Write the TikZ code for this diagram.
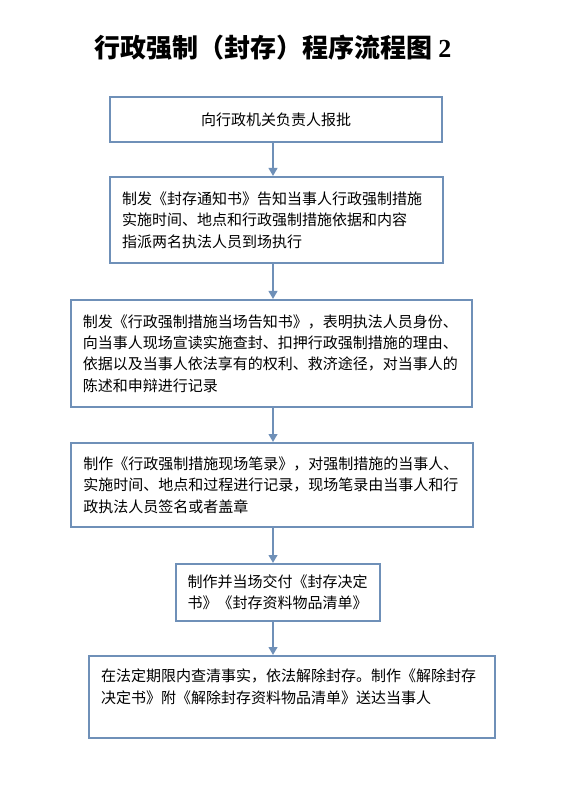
\documentclass[tikz,border=0pt]{standalone}
\usepackage{fontspec}
\setmainfont{Liberation Serif}
\newfontfamily\cjk{Noto Sans CJK SC}
\usetikzlibrary{arrows.meta}
\definecolor{flowblue}{HTML}{6F90B8}

\begin{document}
\begin{tikzpicture}[x=0.75pt, y=-0.75pt, >={Triangle[length=6pt,width=6.5pt]},
  box/.style={draw=flowblue, line width=1.5pt, inner xsep=9pt, inner ysep=0pt,
    align=left, anchor=north, font=\cjk\fontsize{11.25}{16.1}\selectfont},
  flow/.style={->, draw=flowblue, line width=1.5pt}]
  \useasboundingbox (0,0) rectangle (569,812);
  \node[font=\cjk\bfseries\fontsize{19.5}{24}\selectfont] (title) at (273,48)
    {行政强制（封存）程序流程图 {\rmfamily\bfseries 2}};
  \coordinate (spine) at (273,0);

  \node[box, align=center, text width=231pt, minimum height=33.75pt] (report) at (276,96)
    {向行政机关负责人报批};
  \node[box, text width=231.75pt, minimum height=64.5pt] (notice) at (276.5,176)
    {制发《封存通知书》告知当事人行政强制措施\\
     实施时间、地点和行政强制措施依据和内容\\
     指派两名执法人员到场执行};
  \node[box, text width=283pt, minimum height=80.25pt] (inform) at (271.5,299)
    {制发《行政强制措施当场告知书》，表明执法人员身份、\\
     向当事人现场宣读实施查封、扣押行政强制措施的理由、\\
     依据以及当事人依法享有的权利、救济途径，对当事人的\\
     陈述和申辩进行记录};
  \node[box, text width=283pt, minimum height=63pt] (record) at (272,442)
    {制作《行政强制措施现场笔录》，对强制措施的当事人、\\
     实施时间、地点和过程进行记录，现场笔录由当事人和行\\
     政执法人员签名或者盖章};
  \node[box, text width=135pt, minimum height=42.75pt] (decide) at (277.5,563)
    {制作并当场交付《封存决定\\
     书》《封存资料物品清单》};
  \node[box, text width=286.5pt, minimum height=61.5pt] (release) at (292,655)
    {在法定期限内查清事实，依法解除封存。制作《解除封存\\
     决定书》附《解除封存资料物品清单》送达当事人\\ ~};

  \draw[flow] (report.south -| spine) -- (notice.north -| spine);
  \draw[flow] (notice.south -| spine) -- (inform.north -| spine);
  \draw[flow] (inform.south -| spine) -- (record.north -| spine);
  \draw[flow] (record.south -| spine) -- (decide.north -| spine);
  \draw[flow] (decide.south -| spine) -- (release.north -| spine);
\end{tikzpicture}
\end{document}
